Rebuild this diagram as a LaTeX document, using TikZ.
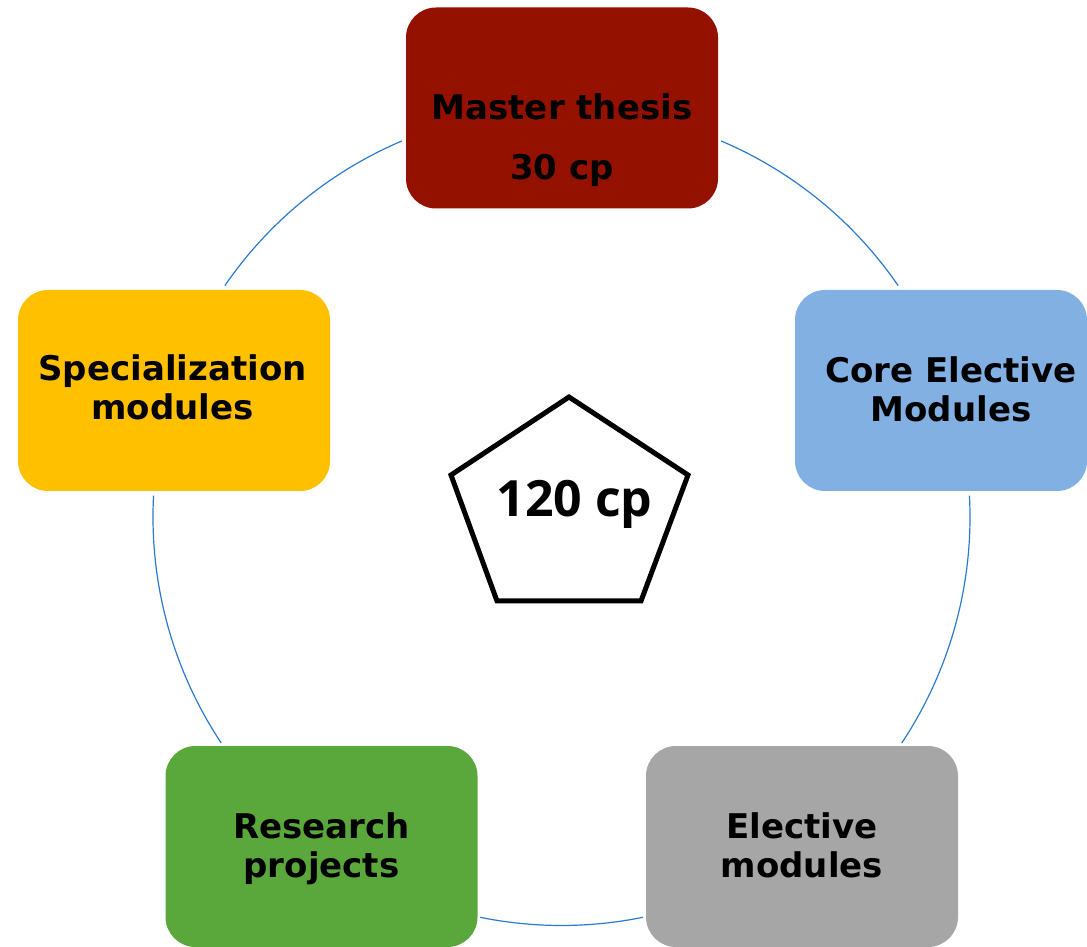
\documentclass[tikz,border=0pt]{standalone}
\usepackage{fontspec}
\setmainfont{DejaVu Sans}
\newfontfamily\totalfont{Open Sans}
\usepackage{tikz}

\definecolor{thesisred}{HTML}{941100}
\definecolor{coreblue}{HTML}{83B0E3}
\definecolor{specyellow}{HTML}{FFC000}
\definecolor{electivegray}{HTML}{A6A6A6}
\definecolor{researchgreen}{HTML}{5AA83C}
\definecolor{ringblue}{HTML}{2A7BD0}

\begin{document}
\begin{tikzpicture}
                [
                    x=1pt,
                    y=1pt,
                    module/.style={shape=rectangle, rounded corners=30pt,
                        minimum width=312pt, minimum height=201pt, inner sep=0pt},
                    module narrow/.style={module, minimum width=292pt},
                    module text/.style={font=\fontsize{34}{39}\selectfont\bfseries,
                        align=center, anchor=base},
                    module text wide/.style={module text,
                        font=\fontsize{34}{60}\selectfont\bfseries},
                    ring/.style={color=ringblue, line width=1.2pt},
                    pentagon/.style={line width=5pt, line join=miter}
                ]
                \useasboundingbox (0,0) rectangle (1087,946);
                \coordinate (centre) at (561.5,429);

                \draw[ring] ([shift={(113:408.5)}]centre)
                    arc[start angle=113, end angle=145.5, radius=408.5];
                \draw[ring] ([shift={(34.5:408.5)}]centre)
                    arc[start angle=34.5, end angle=67, radius=408.5];
                \draw[ring] ([shift={(-33.6:408.5)}]centre)
                    arc[start angle=-33.6, end angle=3, radius=408.5];
                \draw[ring] ([shift={(-101.5:408.5)}]centre)
                    arc[start angle=-101.5, end angle=-78.5, radius=408.5];
                \draw[ring] ([shift={(177:408.5)}]centre)
                    arc[start angle=177, end angle=213.6, radius=408.5];

                \node (thesis)
                    [module, fill=thesisred] at (562,838)
                    {};
                \node (thesis text)
                    [module text wide] at (562,766)
                    {Master thesis\\30 cp};

                \node (core)
                    [module narrow, fill=coreblue] at (941,555.5)
                    {};
                \node (core text)
                    [module text] at (951,524)
                    {Core Elective\\Modules};

                \node (specialization)
                    [module, fill=specyellow] at (174,555.5)
                    {};
                \node (specialization text)
                    [module text] at (172.5,526)
                    {Specialization\\modules};

                \node (research)
                    [module, fill=researchgreen] at (321.5,99.5)
                    {};
                \node (research text)
                    [module text] at (321.5,69)
                    {Research\\projects};

                \node (elective)
                    [module, fill=electivegray] at (802,99.5)
                    {};
                \node (elective text)
                    [module text] at (802,69)
                    {Elective\\modules};

                \draw[pentagon]
                    (569,549) -- (688,471) -- (641,345) -- (497,345) -- (451,471) -- cycle;
                \node (total)
                    [font=\totalfont\fontsize{50}{60}\selectfont\bfseries, anchor=base]
                    at (574.5,429)
                    {120 cp};

            \end{tikzpicture}
\end{document}
